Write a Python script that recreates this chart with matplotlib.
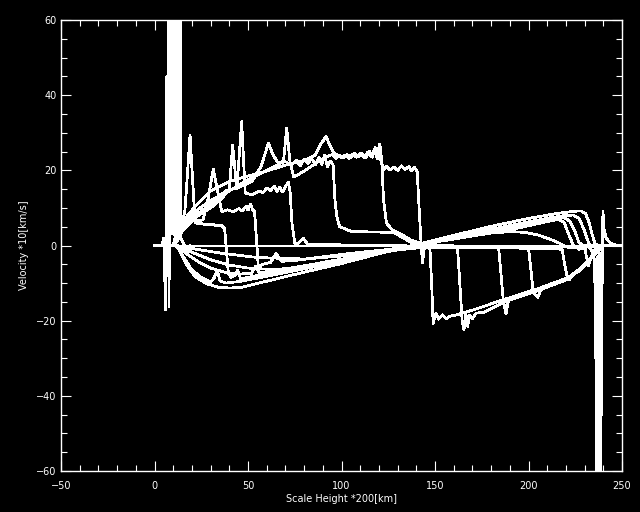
import matplotlib
matplotlib.use("Agg")
import matplotlib.pyplot as plt
from matplotlib.ticker import MultipleLocator

# velocity profiles (x = scale height *200 km, y = velocity *10 km/s)
v0_x = [0, 250]
v0_y = [0, 0]

# shock runs: left front moving right, right front moving left
s1_x = [0, 10, 12, 14, 16.3, 19, 21.3, 22, 25, 28, 31, 34, 36, 37.5, 38.6, 39.5, 41, 43, 44.5, 46, 50, 60, 75, 90, 110, 130, 145, 170, 200, 225, 230, 231, 232, 233, 234.5, 236, 238, 250]
s1_y = [0, 0, 2, 4, 9.4, 29.4, 9.5, 6, 5.8, 5.5, 5.6, 5.2, 5.3, 4.5, -2, -7.5, -8.5, -8, -6.5, -8.8, -8.5, -7.5, -6, -4.5, -2.8, -1.2, -0.4, -0.2, -0.3, -0.4, -0.5, -3, -5.5, -4, -2.5, -0.5, 0, 0]

s2_x = [0, 10, 12, 15, 20, 26, 28.5, 31.4, 33.5, 36, 39, 42, 45, 47, 49, 50, 51.5, 52.5, 53.5, 54.5, 55.5, 58, 62, 65, 68, 75, 90, 110, 130, 145, 180, 210, 218, 219, 220.5, 222, 223.5, 226, 229, 233, 237, 240, 250]
s2_y = [0, 0, 1, 4, 6.5, 6.8, 12, 20.3, 15, 9, 9.5, 9, 9.8, 9.2, 10.5, 9.4, 11, 9.5, 9, 2, -5.6, -5, -4.5, -2.2, -4.2, -4, -3, -1.8, -0.8, -0.5, -0.6, -0.8, -1, -4, -8, -9, -7.5, -7.2, -6, -3.8, -1, 0, 0]

s3_x = [0, 10, 12, 16, 22, 30, 36, 40, 41.8, 44, 46.6, 48.5, 52, 56, 58, 60, 62, 64, 65.5, 67, 68.5, 70, 71.5, 72.5, 73.5, 75, 77, 79.6, 82, 90, 120, 150, 190, 200, 201, 202.5, 205, 206.5, 212, 222, 229, 234, 238, 240, 250]
s3_y = [0, 0, 2, 5, 7.5, 10, 12.5, 15, 26.7, 15, 33, 14, 13.5, 14.5, 14, 15.3, 14.6, 15.8, 14.4, 15.5, 14.2, 15.6, 16.9, 14.5, 6, 0.6, 0.6, 1.9, 0.3, 0.2, 0.1, -0.3, -0.6, -0.8, -5, -12.5, -13.8, -11.8, -10.5, -8.5, -5.5, -3, -1, 0, 0]

s4_x = [0, 10, 12, 16, 22, 30, 38, 45, 52, 57, 60.9, 63.5, 66.2, 70, 73, 76, 78, 80, 82, 84, 86, 88, 89.5, 91, 92.5, 94, 95.5, 96.5, 97.5, 99, 105, 115, 128, 133, 138, 145, 170, 184, 185, 186.5, 188, 189.5, 195, 205, 215, 222, 229, 234, 237.5, 240, 250]
s4_y = [0, 0, 3, 5, 8, 11, 14.5, 15.5, 17, 21, 27.2, 24, 21.9, 22.3, 21.5, 22.6, 21.2, 23, 21.8, 23.2, 21.5, 23.5, 21.6, 24, 21, 22.5, 21.5, 12, 7.7, 5, 3.8, 3.6, 3.5, 2, 0.6, 0.2, -0.3, -0.6, -6, -14.5, -18.2, -14, -13.4, -11.8, -10, -8.2, -5.8, -3.2, -0.5, 0, 0]

s5_x = [0, 10, 12, 16, 20, 30, 40, 50, 60, 66, 69, 70.7, 72.5, 74.5, 80, 86, 92, 95, 97, 99, 101, 103, 105, 107, 109, 111, 113, 115, 116.5, 118, 119.5, 120.5, 121.5, 122.5, 124, 127, 132, 137, 142, 150, 162, 163, 164.5, 165.5, 166.5, 167.5, 168.5, 170, 172, 176, 188, 205, 222, 232, 237.5, 240, 250]
s5_y = [0, 0, 3.5, 6, 8.4, 12, 14.5, 17.5, 20, 21.5, 22.5, 31.2, 22, 18.2, 19.8, 21.8, 23.6, 24.2, 23.2, 24, 23.3, 24.2, 23.4, 24.5, 23.6, 24.4, 23.3, 25, 23.5, 26, 23, 27, 22.5, 12, 6, 4.2, 3, 1.5, 0.6, 0.2, -0.5, -8, -20, -22.5, -18, -21.5, -18.5, -19.5, -18, -17.8, -14.8, -12, -8.8, -4, -0.5, 0, 0]

s6_x = [0, 10, 12, 16, 22, 30, 40, 50, 60, 70, 80, 86, 89, 91.7, 94, 96, 98, 100, 102, 104, 106, 108, 110, 112, 114, 116, 117.5, 119, 120, 121, 122.5, 124, 126, 128, 130, 132, 134, 136, 137.5, 139, 140.5, 141.5, 142.5, 143.3, 144.2, 146, 147.3, 148.2, 149, 150.5, 152, 154, 156, 158, 162, 170, 188, 205, 222, 230, 234, 237.5, 240, 250]
s6_y = [0, 0, 4, 7, 10.5, 14.5, 17, 18.5, 19.8, 21.4, 22.6, 24, 27, 29, 26.5, 24.5, 24, 23.3, 24.1, 23.2, 24.3, 23.5, 24.6, 23.4, 24.8, 23.6, 25.5, 23.2, 26, 22.8, 20.2, 21, 20.1, 20.9, 20, 21.2, 20.2, 21, 19.8, 20.8, 19.6, 10, 1, -4.7, -0.8, -0.3, -1, -10, -20.7, -18, -19.6, -18.4, -19.5, -18.8, -18.4, -17.2, -14.2, -11.5, -8.4, -5.2, -3, -0.3, 0, 0]

# wave runs: linear profile crossing zero near x=138
w1_x = [0, 11, 13, 15, 18, 22, 28, 34, 40, 46, 60, 80, 100, 120, 138, 160, 180, 200, 215, 224, 228, 230.5, 232.5, 234, 235.5, 237, 250]
w1_y = [0, 0, -1, -3, -5.8, -8.4, -10.2, -11.1, -11.3, -11.2, -9.5, -7.1, -4.8, -2.2, 0, 2.7, 5.1, 7.2, 8.5, 9.1, 9.2, 8.5, 6, 3, 0.5, 0, 0]

w2_x = [0, 11, 13, 16, 20, 25, 30, 32, 33.5, 35, 38, 45, 60, 80, 100, 120, 138, 160, 180, 200, 212, 220, 224, 227, 229.5, 231.5, 233, 250]
w2_y = [0, 0, -1, -3.5, -6.5, -8.5, -9.8, -8.5, -6.5, -9.4, -10, -9.6, -8.2, -6.2, -4.2, -2.0, 0, 2.3, 4.3, 6.3, 7.4, 8.0, 8.1, 7.2, 4.5, 1.5, 0, 0]

w3_x = [0, 11, 14, 18, 24, 30, 38, 45, 52, 54, 56, 60, 80, 100, 120, 138, 160, 180, 200, 210, 216, 219, 222, 225, 227, 229, 250]
w3_y = [0, 0, -1, -2.5, -4.5, -6, -7.2, -7.6, -7.4, -5.5, -7.2, -7, -5.5, -3.8, -1.9, 0, 2.0, 3.9, 5.9, 6.8, 7.4, 7.5, 6.5, 3.5, 0.8, 0, 0]

w4_x = [0, 12, 16, 22, 30, 40, 50, 60, 70, 90, 110, 138, 160, 180, 195, 205, 212, 216, 219, 221.5, 224, 227, 232, 250]
w4_y = [0, 0, -1, -2.2, -3.8, -5.2, -6, -6.3, -6.2, -4.6, -3.0, 0, 1.7, 3.4, 4.7, 5.8, 6.6, 6.9, 6.2, 3, 0, -1, -0.3, 0]

w5_x = [0, 12, 20, 35, 55, 80, 110, 138, 150, 165, 180, 190, 198, 205, 212, 217, 221, 226, 232, 250]
w5_y = [0, 0, -0.8, -2, -3.2, -3.6, -2.4, 0, 0.9, 2.2, 3.3, 3.7, 3.5, 2.8, 1.6, 0.5, -0.5, -0.6, -0.2, 0]

# numerical ringing at both walls
wall_l_x = [4, 5, 5.9, 6.6, 7.0, 7.4, 7.8, 8.2, 8.6, 9.0, 9.4, 9.8, 10.2, 10.6, 11.0, 11.4, 11.8, 12.2, 12.6, 13.0, 13.4, 13.8, 14.2, 15, 17, 19]
wall_l_y = [0, 2, -17, 45, -8, 80, -16.3, 90, 3, 90, 4, 90, 3, 90, 5, 90, 4, 90, 6, 90, 5, 90, 2, 1, -1, 0]

wall_r_x = [232, 234, 235.4, 235.8, 236.2, 236.6, 237.0, 237.4, 237.8, 238.2, 238.6, 239.0, 239.4, 239.8, 240.5, 241.5, 243.5, 246, 250]
wall_r_y = [0, -1.5, -4, -30, -4, -90, -3, -90, -2, -90, -3, -45, -8, 9, 4, 2, 0.8, 0.2, 0]

profiles = [
    (v0_x, v0_y), (s1_x, s1_y), (s2_x, s2_y), (s3_x, s3_y), (s4_x, s4_y),
    (s5_x, s5_y), (s6_x, s6_y), (w1_x, w1_y), (w2_x, w2_y), (w3_x, w3_y),
    (w4_x, w4_y), (w5_x, w5_y), (wall_l_x, wall_l_y), (wall_r_x, wall_r_y),
]

plt.rcParams['font.family'] = ['DejaVu Sans']
plt.rcParams['font.size'] = 7

fig = plt.figure(figsize=(6.4, 5.12), dpi=100, facecolor='black')
ax = fig.add_axes([61 / 640, 41 / 512, 561 / 640, 451 / 512], facecolor='black')

for px, py in profiles:
    ax.plot(px, py, color='white', lw=1.25, antialiased=False)

ax.set_xlim(-50, 250)
ax.set_ylim(-60, 60)
ax.xaxis.set_major_locator(MultipleLocator(50))
ax.xaxis.set_minor_locator(MultipleLocator(10))
ax.yaxis.set_major_locator(MultipleLocator(20))
ax.yaxis.set_minor_locator(MultipleLocator(5))

for side in ax.spines.values():
    side.set_color('white')
    side.set_linewidth(1)
ax.tick_params(which='both', direction='in', colors='white', top=True, right=True, width=0.8)
ax.tick_params(which='major', length=7)
ax.tick_params(which='minor', length=4)
ax.tick_params(axis='x', which='major', pad=7.5)
ax.tick_params(axis='y', which='major', pad=3)

ax.set_xlabel('Scale Height *200[km]', color='white', labelpad=2)
ax.set_ylabel('Velocity *10[km/s]', color='white', labelpad=5)

fig.savefig('out.png', dpi=100, facecolor='black')
